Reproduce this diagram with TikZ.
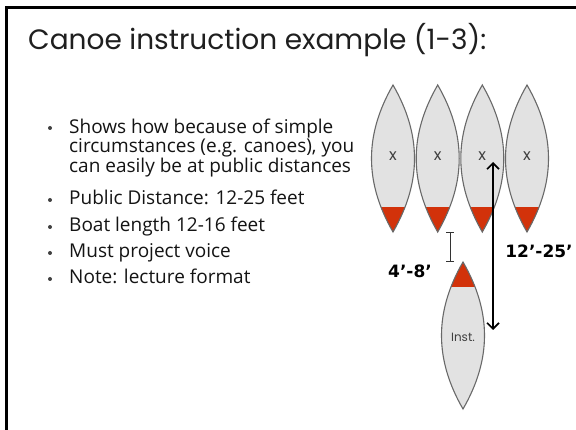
\documentclass[tikz,border=0pt]{standalone}
\usepackage{fontspec}
\usepackage{tikz}
\usetikzlibrary{arrows.meta}

\newfontfamily\titlefont{Poppins}
\newfontfamily\bodyfont{Open Sans}
\newfontfamily\markfont{DejaVu Sans}

\definecolor{hullfill}{RGB}{226,226,226}
\definecolor{hullline}{RGB}{105,105,105}
\definecolor{bowred}{RGB}{210,50,10}

\tikzset{
  pics/canoe/.style={code={
    \begin{scope}
      \clip (0,-73.5) to[bend left=30] (0,73.5) to[bend left=30] cycle;
      \fill[hullfill] (-30,-80) rectangle (30,80);
      \fill[bowred] (-30,48.5) rectangle (30,80);
    \end{scope}
    \draw[hullline, line width=1.1pt]
      (0,-73.5) to[bend left=30] (0,73.5) to[bend left=30] cycle;
  }},
  item/.style={anchor=base west, align=left, text=black!92,
               font=\bodyfont\fontsize{19}{18}\selectfont},
  dotmark/.style={circle, fill=black!75, minimum size=4pt},
  seat/.style={text=black!75, font=\titlefont\fontsize{16}{16}\selectfont},
  dim/.style={text=black, font=\markfont\bfseries\fontsize{17}{17}\selectfont},
  reach/.style={{Straight Barb[length=6pt,width=12pt]}-{Straight Barb[length=6pt,width=12pt]},
                line width=1.6pt},
  gapbar/.style={{Bar[width=8pt]}-{Bar[width=8pt]}, line width=1pt, black!80}
}

\begin{document}
\begin{tikzpicture}[x=1pt, y=-1pt, every node/.style={inner sep=0pt}]
  \useasboundingbox (0,0) rectangle (576,430);
  \fill[white] (0,0) rectangle (576,430);
  \draw[line width=3pt] (6.5,440) -- (6.5,7.5) -- (590,7.5);

  \node[anchor=base west, text=black!88, font=\titlefont\fontsize{28}{28}\selectfont]
    (title) at (28,50) {Canoe instruction example (1-3):};

  % bullet list
  \node[dotmark] (d1) at (50,128) {};
  \node[item] (b1) at (69,173) {Shows how because of simple\\
    circumstances (e.g. canoes), you\\can easily be at public distances};
  \node[dotmark] (d2) at (50,200) {};
  \node[item] (b2) at (69,205) {Public Distance: 12-25 feet};
  \node[dotmark] (d3) at (50,227) {};
  \node[item] (b3) at (69,232) {Boat length 12-16 feet};
  \node[dotmark] (d4) at (50,253) {};
  \node[item] (b4) at (69,258) {Must project voice};
  \node[dotmark] (d5) at (50,279) {};
  \node[item] (b5) at (69,284) {Note: lecture format};

  % canoes in a row, instructor below
  \pic at (393,158.5) {canoe};
  \pic at (437.7,158.5) {canoe};
  \pic at (482.3,158.5) {canoe};
  \pic at (527,158.5) {canoe};
  \pic[rotate=180] at (463,335.5) {canoe};

  \node[seat] (x1) at (393,156) {x};
  \node[seat] (x2) at (437.7,156) {x};
  \node[seat] (x3) at (482.3,156) {x};
  \node[seat] (x4) at (527,156) {x};
  \node[seat, font=\titlefont\fontsize{12}{12}\selectfont] (inst) at (463,337) {Inst.};

  % distances
  \coordinate (gaptop) at (450,232);
  \coordinate (gapbot) at (450,262);
  \draw[gapbar] (gaptop) -- (gapbot);
  \node[dim] (near) at (410,271) {4’-8’};

  \coordinate (pubtop) at (493,162);
  \coordinate (pubbot) at (493,330);
  \draw[reach] (pubbot) -- (pubtop);
  \node[dim] (far) at (539,251.5) {12’-25’};
\end{tikzpicture}
\end{document}
